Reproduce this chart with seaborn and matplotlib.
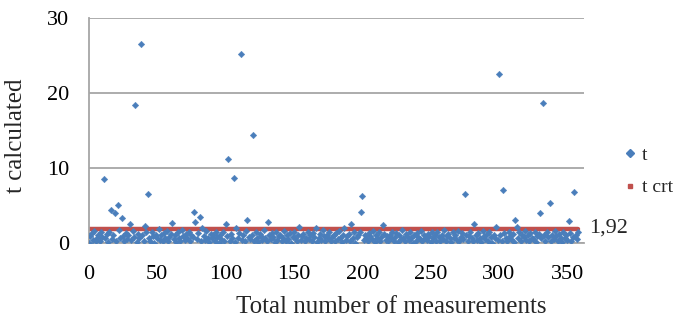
import matplotlib

matplotlib.use("Agg")

import matplotlib.pyplot as plt
import numpy as np
import pandas as pd
import seaborn as sns
from matplotlib.lines import Line2D


T_CALCULATED = [
    0.05, 0.9, 1.3, 0.4, 1.6, 0.2, 0.7, 1.1, 0.3, 1.5, 0.8, 8.5, 0.6, 1.2, 0.1, 1.4, 4.35, 0.5, 1.0, 3.95,
    0.3, 5.1, 1.7, 0.6, 3.3, 0.9, 0.2, 1.3, 0.5, 1.1, 2.5, 0.4, 1.6, 0.8, 18.4, 0.1, 1.2, 0.7, 26.5, 1.0,
    0.3, 2.3, 1.5, 6.5, 0.6, 0.2, 1.4, 0.9, 0.05, 1.1, 0.7, 1.8, 0.4, 1.0, 0.2, 1.3, 0.6, 1.6, 0.3, 0.8,
    1.2, 2.6, 0.5, 1.0, 0.1, 1.4, 0.7, 0.3, 1.7, 0.9, 0.4, 1.2, 0.6, 1.5, 0.2, 1.1, 0.8, 4.1, 2.8, 0.5,
    1.3, 3.5, 0.2, 2.0, 0.9, 0.4, 1.6, 0.7, 0.1, 1.2, 0.6, 1.0, 0.3, 1.5, 0.8, 0.05, 1.1, 0.5, 1.4, 0.2,
    2.5, 0.9, 11.2, 0.3, 1.2, 0.6, 8.7, 0.1, 2.0, 0.7, 1.3, 25.2, 0.4, 1.0, 0.2, 1.6, 3.0, 0.8, 0.5, 1.1,
    14.4, 0.3, 1.4, 0.7, 0.1, 1.2, 0.9, 0.4, 1.7, 0.6, 0.2, 2.85, 1.0, 0.5, 1.3, 0.8, 0.1, 1.5, 0.4, 0.9,
    1.1, 0.3, 0.7, 1.6, 0.2, 1.0, 0.5, 1.3, 0.05, 0.8, 1.4, 0.6, 0.3, 1.1, 2.1, 0.4, 0.9, 1.2, 0.2, 0.7,
    1.5, 0.5, 1.0, 0.3, 1.3, 0.8, 1.95, 0.1, 0.6, 1.2, 0.4, 1.7, 0.9, 0.2, 1.1, 0.6, 1.4, 0.3, 0.8, 1.0,
    0.2, 1.3, 0.5, 1.6, 0.7, 0.1, 1.1, 2.0, 0.4, 0.9, 1.2, 0.3, 2.5, 0.6, 1.4, 0.05, 0.8, 1.0, 1.5, 4.1,
    6.3, 0.4, 1.1, 0.7, 0.2, 1.3, 0.9, 0.5, 1.6, 0.1, 1.0, 0.6, 1.4, 0.3, 0.8, 2.45, 1.2, 0.4, 0.9, 0.2,
    1.1, 0.6, 1.5, 0.3, 0.8, 1.3, 0.1, 1.0, 0.5, 1.7, 0.7, 0.2, 1.2, 0.9, 0.4, 1.4, 0.6, 0.05, 1.0, 0.3,
    1.3, 0.8, 0.5, 1.6, 0.2, 1.1, 0.7, 0.4, 1.2, 0.9, 0.1, 1.5, 0.6, 1.0, 0.3, 1.4, 0.8, 0.2, 1.1, 0.5,
    1.7, 0.3, 0.9, 1.2, 0.6, 0.1, 1.4, 0.7, 1.0, 0.4, 1.6, 0.2, 0.8, 1.3, 0.5, 6.5, 1.1, 0.3, 0.9, 1.5,
    0.6, 0.2, 2.5, 1.0, 0.4, 1.3, 0.7, 0.1, 1.6, 0.9, 0.5, 1.2, 0.3, 1.4, 0.8, 0.05, 1.1, 0.6, 2.15, 0.4,
    22.5, 1.0, 0.3, 7.0, 1.3, 0.7, 0.2, 1.5, 0.9, 0.5, 1.2, 0.1, 3.05, 2.1, 0.6, 1.4, 0.3, 1.0, 0.8, 1.6,
    0.4, 1.1, 0.2, 1.3, 0.7, 0.5, 1.5, 0.1, 0.9, 1.2, 3.95, 0.6, 18.7, 1.0, 0.3, 1.4, 0.8, 5.3, 0.2, 1.1,
    0.5, 1.6, 0.9, 0.3, 1.2, 0.7, 0.1, 1.4, 0.6, 1.0, 0.4, 2.9, 1.3, 0.2, 0.8, 6.75, 1.1, 0.5, 1.5,
]
T_CRITICAL = 1.92
X_TICKS = [0, 50, 100, 150, 200, 250, 300, 350]
Y_TICKS = [0, 10, 20, 30]

BLUE = "#4a7ebb"
RED = "#c0504d"
GRID = "#a6a6a6"


def main() -> None:
    sns.set_theme(style="white")
    plt.rcParams["font.family"] = ["Liberation Serif", "DejaVu Serif"]

    data = pd.DataFrame({"t": T_CALCULATED})
    data["measurement"] = np.arange(len(data))
    data["t_crt"] = T_CRITICAL

    fig = plt.figure(figsize=(6.78, 3.23), dpi=100)
    ax = fig.add_axes([0.131, 0.248, 0.730, 0.696])

    ax.set_axisbelow(True)
    ax.grid(axis="y", color=GRID, linewidth=1.3)

    sns.lineplot(data=data, x="measurement", y="t_crt", color=RED, linewidth=3.2, ax=ax, zorder=2)
    sns.scatterplot(
        data=data,
        x="measurement",
        y="t",
        marker="D",
        s=11,
        color=BLUE,
        edgecolor=BLUE,
        linewidth=0.3,
        ax=ax,
        zorder=3,
    )

    ax.set_xlim(0, 362)
    ax.set_ylim(0, 30)
    ax.set_xticks(X_TICKS)
    ax.set_yticks(Y_TICKS)
    ax.tick_params(axis="both", labelsize=16, colors="black", length=5, width=1.2, color=GRID,
                   direction="out")
    ax.tick_params(axis="x", pad=11)
    ax.tick_params(axis="y", pad=9)

    for side in ["top", "right"]:
        ax.spines[side].set_visible(False)
    for side in ["left", "bottom"]:
        ax.spines[side].set_color(GRID)
        ax.spines[side].set_linewidth(1.3)

    ax.set_xlabel("Total number of measurements", fontsize=18)
    ax.set_ylabel("t calculated", fontsize=18)
    ax.xaxis.set_label_coords(0.612, -0.235)
    ax.yaxis.set_label_coords(-0.125, 0.476)

    ax.text(data["measurement"].max() + 8, T_CRITICAL, "1,92", fontsize=16, ha="left", va="center",
            clip_on=False)

    handles = [
        Line2D([], [], linestyle="none", marker="D", markersize=4, color=BLUE, label="t"),
        Line2D([], [], linestyle="none", marker="s", markersize=3, color=RED, label="t crt"),
    ]
    fig.legend(
        handles=handles,
        loc="center left",
        bbox_to_anchor=(0.92, 0.469),
        frameon=False,
        fontsize=14,
        handlelength=0.6,
        handletextpad=0.35,
        labelspacing=0.75,
        borderpad=0,
        borderaxespad=0,
    )

    fig.savefig("out.png", dpi=100)
    plt.close(fig)


if __name__ == "__main__":
    main()
